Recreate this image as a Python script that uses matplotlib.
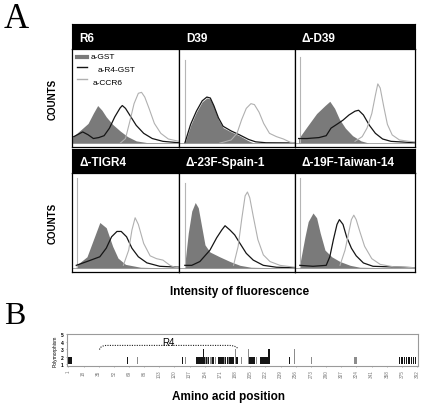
import numpy as np
import matplotlib.pyplot as plt

W, H = 421, 406
plt.rcParams['font.family'] = ['Liberation Sans', 'DejaVu Sans']

# ---- panel A: flow cytometry histograms (x, y in % of panel) ----
panel_names = ['R6', 'D39', '\u0394-D39', '\u0394-TIGR4', '\u0394-23F-Spain-1', '\u0394-19F-Taiwan-14']

r6_gst = ([0, 2, 8, 15, 20, 24, 28, 32, 38, 45, 52, 60, 70, 100],
          [5, 8, 14, 21, 32, 40, 35, 28, 20, 13, 7, 2.5, 0.7, 0])
r6_r4 = ([0, 5, 10, 15, 20, 25, 30, 35, 40, 45, 47, 50, 55, 60, 67, 75, 85, 100],
         [6, 9, 12, 9, 5, 6, 8, 16, 28, 37.5, 40, 37, 28, 19, 10.5, 5, 2, 0.5])
r6_ccr6 = ([45, 50, 54, 58, 62, 65, 68, 72, 77, 83, 90, 100],
           [0, 5, 23, 42, 53, 54, 49, 37, 21, 10.5, 4.5, 2])

d39_gst = ([5, 6, 10, 15, 20, 24, 27, 30, 34, 38, 45, 52, 60, 65, 100],
           [0, 3.5, 19, 33, 44, 48, 47, 39, 25, 16.5, 12, 8, 2.5, 0, 0])
d39_r4 = ([5, 6, 10, 15, 20, 24, 27, 30, 34, 38, 45, 52, 60, 66, 75, 100],
          [0, 4, 20, 34, 45, 49, 48, 40, 27, 18, 13, 9, 4, 1.5, 0.5, 0.3])
d39_ccr6 = ([35, 45, 50, 54, 58, 62, 65, 69, 73, 78, 84, 90, 96, 100],
            [0, 3.5, 10.5, 25, 37, 42, 41, 33, 21, 10.5, 7, 4.5, 1, 0.5])

dd39_gst = ([3, 10, 18, 25, 29, 33, 37, 42, 48, 55, 62, 100],
            [5, 17.5, 31.5, 40, 44.5, 37, 25.6, 16, 8, 2.5, 0, 0])
dd39_r4 = ([3, 10, 20, 26, 30, 36, 40, 45, 50, 53, 57, 62, 67, 73, 80, 100],
           [5, 5, 6, 8, 16, 21, 24.5, 30, 34, 35, 30, 19, 10.5, 4.5, 2, 0.5])
dd39_ccr6 = ([50, 56, 60, 64, 67, 69, 71, 74, 77, 81, 87, 95, 100],
             [2, 7, 16, 31.5, 51, 63, 58.6, 38.6, 20, 8.8, 3.5, 2, 1.5])

tigr4_gst = ([4, 14, 20, 26, 32, 38, 43, 50, 64, 100],
             [3, 12, 30, 48, 42.5, 23, 10.6, 4, 1, 0])
tigr4_r4 = ([4, 14, 26, 32, 37, 42, 46, 51, 56, 62, 70, 82, 100],
            [3, 7, 12, 21, 33, 38.6, 38.6, 33, 21, 12, 5.6, 2, 1])
tigr4_ccr6 = ([48, 53, 56, 59, 62, 67, 73, 79, 85, 91.6, 96, 100],
              [3, 19, 40, 53, 46, 26, 13, 10, 8.5, 3, 1, 0.5])

spain_gst = ([5, 8, 11, 14, 16.6, 19.5, 22.4, 26.7, 35, 44, 52.6, 62, 100],
             [4, 37, 60, 69, 63.5, 44, 24.5, 17, 12, 7, 3, 1, 0])
spain_r4 = ([5, 11, 18, 26.7, 32.5, 36.8, 39.7, 44, 48, 52.6, 58, 64, 72.7, 84, 100],
            [3, 3, 7, 19, 32, 40, 44.6, 40, 35, 26, 15.6, 8.5, 3, 1, 0.5])
spain_ccr6 = ([47, 51, 54, 57, 59, 61, 64, 68, 72.7, 78.4, 87, 100],
              [3, 23, 51, 76, 80, 74, 54.6, 30, 14, 7, 3, 1])

taiwan_gst = ([4, 8.3, 11, 15, 18, 21, 25, 30.6, 37.5, 46, 54, 100],
              [4, 33, 49, 58, 53, 37, 19, 12, 7, 3, 1, 0])
taiwan_r4 = ([4, 15, 26, 29, 32, 35, 37, 40, 43, 47, 51, 57, 65, 100],
             [3, 2, 3, 12, 30, 46, 51, 46, 33, 21, 13, 5.5, 2, 0.5])
taiwan_ccr6 = ([37.5, 41.7, 44.4, 47, 49, 51, 54, 58, 64, 71, 82, 100],
               [3, 19, 35, 51, 55.7, 51, 38.6, 23, 10, 4, 1.5, 0.5])

curves = [(r6_gst, r6_r4, r6_ccr6), (d39_gst, d39_r4, d39_ccr6), (dd39_gst, dd39_r4, dd39_ccr6),
          (tigr4_gst, tigr4_r4, tigr4_ccr6), (spain_gst, spain_r4, spain_ccr6),
          (taiwan_gst, taiwan_r4, taiwan_ccr6)]
axis_line_x = [None, 5, 4, 5, 5, 4]   # faint left axis line seen in most panels
axis_line_top = [None, 88, 92, 95, 90, 95]

# ---- panel B: polymorphism per amino acid position ----
black_pos = [1, 2, 3, 4, 67, 129,
             145, 146, 147, 148, 149, 150, 151, 152, 153, 154, 156, 158, 160, 163, 164,
             169, 170, 171, 172, 173, 174, 175, 177, 179, 180, 182, 183, 184, 185, 186, 190, 191,
             204, 205, 206, 207, 208, 209, 210,
             216, 217, 218, 219, 220, 221, 222, 223, 224, 225, 226, 227, 249,
             372, 374, 376, 378, 380, 382, 384, 386, 388, 390]
black_val = [2] * len(black_pos)
for p in (153, 225, 227):
    black_val[black_pos.index(p)] = 3
gray_pos = [79, 132, 155, 157, 161, 166, 176, 181, 188, 195, 203, 212, 255, 274, 322, 323, 324]
gray_val = [2, 2, 2, 2, 2, 2, 2, 2, 3, 2, 3, 2, 3, 2, 2, 2, 2]
r4_start, r4_end = 36, 191
xtick_pos = list(range(1, 393, 17))

fig = plt.figure(figsize=(W / 100, H / 100), dpi=100)


def box(x0, y0, x1, y1):
    return fig.add_axes([x0 / W, 1 - y1 / H, (x1 - x0) / W, (y1 - y0) / H])


cols = [72, 179, 295, 415]
rows = [(25, 50, 148), (150, 174, 273)]

for r, (htop, ptop, pbot) in enumerate(rows):
    hd = box(cols[0], htop, cols[-1], ptop)
    hd.set_facecolor('black')
    hd.set_xticks([]); hd.set_yticks([])
    for c in range(3):
        hd.text((cols[c] - cols[0] + 7) / (cols[-1] - cols[0]), 0.45, panel_names[r * 3 + c],
                transform=hd.transAxes, color='white', fontsize=8.5, fontweight='bold',
                va='center', ha='left', family=['Liberation Sans Narrow', 'Liberation Sans'])
    for c in range(3):
        i = r * 3 + c
        ax = box(cols[c], ptop, cols[c + 1], pbot)
        gst, r4, ccr6 = curves[i]
        if axis_line_x[i] is not None:
            ax.plot([axis_line_x[i]] * 2, [0, axis_line_top[i]], color='#b5b5b5', lw=0.8)
        ax.fill_between(gst[0], gst[1], 0, color='#7a7a7a', lw=0)
        ax.plot(r4[0], r4[1], color='#151515', lw=0.9)
        ax.plot(ccr6[0], ccr6[1], color='#b0b0b0', lw=0.8)
        ax.plot([0, 100], [0, 0], color='#999999', lw=0.6)
        ax.set_xlim(0, 100)
        ax.set_ylim(-4, 100)
        ax.set_xticks([]); ax.set_yticks([])
        for s in ax.spines.values():
            s.set_linewidth(0.9)
        if i == 0:
            ax.plot([5, 14], [92, 92], color='#7a7a7a', lw=3)
            ax.plot([5, 14], [81, 81], color='#151515', lw=1)
            ax.plot([5, 14], [68, 68], color='#b0b0b0', lw=1)
            ax.text(17, 92, 'a-GST', fontsize=6, va='center')
            ax.text(24, 78, 'a-R4-GST', fontsize=6, va='center')
            ax.text(19, 64, 'a-CCR6', fontsize=6, va='center')
    fig.text(53 / W, 1 - (ptop + pbot) / 2 / H, 'COUNTS', rotation=90, ha='center', va='center',
             fontsize=7, fontweight='bold')

fig.text(240 / W, 1 - 292 / H, 'Intensity of fluorescence', ha='center', va='center',
         fontsize=8.5, fontweight='bold')
fig.text(4 / W, 1 - 28 / H, 'A', fontsize=25, family=['Liberation Serif', 'DejaVu Serif'],
         ha='left', va='baseline')
fig.text(4 / W, 1 - 324 / H, 'B', fontsize=23, family=['Liberation Serif', 'DejaVu Serif'],
         ha='left', va='baseline')

# panel B
axb = box(67, 335, 418, 367)
axb.bar(black_pos, np.array(black_val) - 1, bottom=1, width=1.1, color='#151515', lw=0)
axb.bar(gray_pos, np.array(gray_val) - 1, bottom=1, width=1.3, color='#8c8c8c', lw=0)
t = np.linspace(0, np.pi / 2, 12)
bx = np.concatenate([r4_start + 8 * (1 - np.cos(t)), [r4_end - 10],
                     r4_end - 10 + 10 * np.sin(t)])
by = np.concatenate([2.95 + 0.55 * np.sin(t), [3.5], 3.5 - 0.5 * (1 - np.cos(t))])
axb.plot(bx, by, color='#222222', lw=0.8, ls=(0, (1, 1.2)))
axb.text((r4_start + r4_end) / 2, 4.0, 'R4', fontsize=7, ha='center', va='center')
axb.set_xlim(-0.5, 393)
axb.set_ylim(0.8, 5)
axb.set_yticks([1, 2, 3, 4, 5])
axb.set_yticklabels(['1', '2', '3', '4', '5'], fontsize=3.5, fontweight='bold')
axb.set_xticks(xtick_pos)
axb.set_xticklabels([str(v) for v in xtick_pos], fontsize=3.3, rotation=90, color='#777777')
axb.tick_params(length=1, width=0.4, pad=1.5, colors='#777777')
axb.tick_params(axis='y', labelcolor='black')
axb.set_ylabel('Polymorphism', fontsize=3.5, labelpad=2)
for s in axb.spines.values():
    s.set_color('#9a9a9a')
    s.set_linewidth(0.8)
fig.text(228 / W, 1 - 397 / H, 'Amino acid position', ha='center', va='center',
         fontsize=8.5, fontweight='bold')

fig.savefig('out.png', dpi=100)
